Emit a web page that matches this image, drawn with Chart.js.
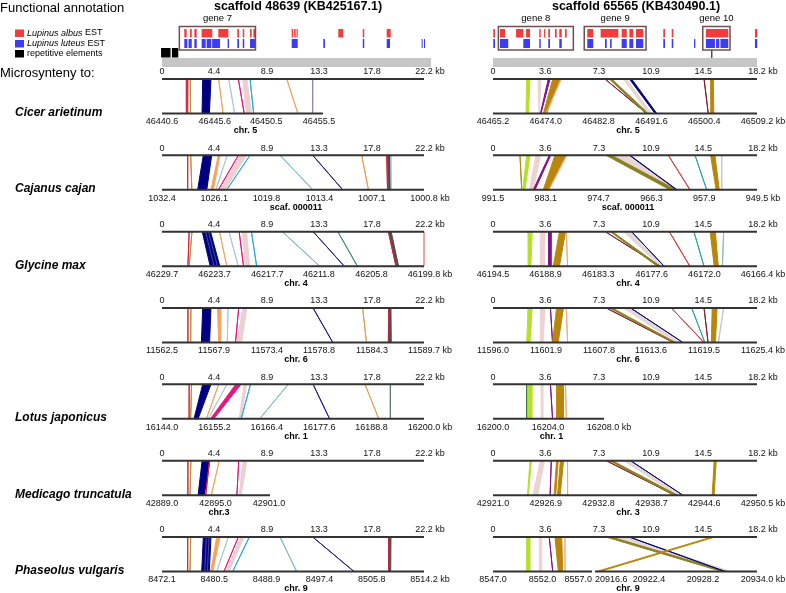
<!DOCTYPE html>
<html><head><meta charset="utf-8">
<script src="https://cdn.jsdelivr.net/npm/chart.js@4"></script>
<style>html,body{margin:0;padding:0;background:#fff}canvas{display:block}</style>
</head><body>
<canvas id="c" width="786" height="593"></canvas>
<script>
// ---------------- DATA ----------------
const leftTopTicks=[0,4.4,8.9,13.3,17.8,22.2];
const rightTopTicks=[0,3.6,7.3,10.9,14.5,18.2];
const speciesNames=['Cicer arietinum','Cajanus cajan','Glycine max','','Lotus japonicus','Medicago truncatula','Phaseolus vulgaris'];
const leftChrLabels=['chr. 5','scaf. 000011','chr. 4','chr. 6','chr. 1','chr.3','chr. 9'];
const rightChrLabels=['chr. 5','scaf. 000011','chr. 4','chr. 6','chr. 1','chr. 3','chr. 9'];

const cicerLeftTicks=[46440.6,46445.6,46450.5,46455.5];
const cicerRightTicks=[46465.2,46474.0,46482.8,46491.6,46500.4,46509.2];
const cajanusLeftTicks=[1032.4,1026.1,1019.8,1013.4,1007.1,1000.8];
const cajanusRightTicks=[991.5,983.1,974.7,966.3,957.9,949.5];
const glycine4LeftTicks=[46229.7,46223.7,46217.7,46211.8,46205.8,46199.8];
const glycine4RightTicks=[46194.5,46188.9,46183.3,46177.6,46172.0,46166.4];
const glycine6LeftTicks=[11562.5,11567.9,11573.4,11578.8,11584.3,11589.7];
const glycine6RightTicks=[11596.0,11601.9,11607.8,11613.6,11619.5,11625.4];
const lotusLeftTicks=[16144.0,16155.2,16166.4,16177.6,16188.8,16200.0];
const lotusRightTicks=[16200.0,16204.0,16208.0];
const medicagoLeftTicks=[42889.0,42895.0,42901.0];
const medicagoRightTicks=[42921.0,42926.9,42932.8,42938.7,42944.6,42950.5];
const phaseolusLeftTicks=[8472.1,8480.5,8488.9,8497.4,8505.8,8514.2];
const phaseolusRightTicksA=[8547.0,8552.0,8557.0];
const phaseolusRightTicksB=[20916.6,20922.4,20928.2,20934.0];

// links: [feature, scaffold kb start, scaffold kb end, target start, target end]
const cicerLeftLinks=[['A',2.05,2.2,46442.9,46443.05],['B',2.4,2.4,46443.3,46443.3],['C',3.45,4.15,46444.4,46445.1],['D',4.8,4.8,46446.4,46446.4],['E',5.65,5.65,46447.5,46447.5],['F',6.47,6.47,46448.4,46448.4],['G',6.84,7.2,46448.6,46449.1],['H',7.46,7.46,46449.3,46449.3],['D',10.57,10.57,46453.5,46453.5],['J2',12.77,12.77,46454.9,46454.9]];
const cajanusLeftLinks=[['A',2.18,2.18,1029.3,1029.3],['B',2.43,2.43,1028.8,1028.8],['C',3.5,4.21,1028.1,1027.0],['D',4.77,4.92,1026.5,1026.2],['E',5.53,5.53,1025.9,1025.9],['F',6.47,6.47,1025.6,1025.6],['G',6.61,7.18,1025.4,1024.8],['H',7.46,7.46,1024.6,1024.6],['I',10.0,10.0,1014.2,1014.2],['J',12.77,12.77,1010.6,1010.6],['K',16.92,16.92,1007.5,1007.5],['A',19.04,19.04,1005.2,1005.2],['M',19.12,19.32,1005.1,1004.85],['E',19.4,19.4,1004.75,1004.75]];
const glycine4LeftLinks=[['A',2.3,2.3,46226.74,46226.74],['B',2.54,2.54,46226.6,46226.6],['C',3.41,4.11,46224.2,46223.1],['D',4.87,4.87,46222.3,46222.3],['E',5.68,5.68,46221.0,46221.0],['F',6.54,6.54,46220.4,46220.4],['G',6.82,7.17,46220.2,46219.7],['H',7.58,7.58,46218.9,46218.9],['I',10.19,10.19,46211.7,46211.7],['J',12.81,12.81,46208.9,46208.9],['L',14.9,14.9,46207.4,46207.4],['A',19.18,19.18,46203.0,46203.0],['M',19.25,19.42,46202.9,46202.7],['N',22.2,22.2,46199.8,46199.8]];
const glycine6LeftLinks=[['A',2.2,2.2,11565.19,11565.19],['B',2.45,2.45,11565.48,11565.48],['C',3.45,4.15,11566.59,11567.44],['D',4.7,5.0,11568.39,11568.6],['E',5.6,5.6,11569.28,11569.28],['F',6.5,6.5,11570.13,11570.13],['G',6.85,7.2,11570.26,11570.76],['J',12.8,12.8,11580.23,11580.23],['K',17.0,17.0,11583.73,11583.73],['A',19.2,19.2,11586.0,11586.0],['M',19.27,19.4,11586.07,11586.3]];
const lotusLeftLinks=[['A',2.3,2.3,16149.79,16149.79],['B',2.5,2.5,16150.13,16150.13],['C',3.45,4.15,16150.84,16151.72],['D',4.8,4.8,16153.49,16153.49],['E',5.5,5.5,16153.92,16153.92],['F',6.25,6.7,16154.37,16155.07],['G',6.96,7.17,16160.5,16160.9],['H',7.5,7.5,16160.93,16160.93],['I',10.7,10.7,16164.88,16164.88],['J',12.8,12.8,16179.82,16179.82],['K',17.2,17.2,16190.34,16190.34],['O',19.35,19.35,16192.8,16192.8]];
const medicagoLeftLinks=[['A',2.2,2.2,42891.9,42891.9],['B',2.45,2.45,42892.14,42892.14],['C',3.4,4.05,42893.05,42893.74],['A',4.03,4.03,42893.9,42893.9],['D',4.85,4.85,42894.53,42894.53],['F',6.5,6.5,42897.4,42897.4],['G',6.85,7.2,42897.66,42897.88]];
const phaseolusLeftLinks=[['A',2.18,2.18,8476.23,8476.23],['B',2.43,2.43,8476.6,8476.6],['C',3.5,4.15,8478.48,8479.7],['D',4.63,4.92,8479.93,8480.25],['E',5.62,5.62,8480.9,8480.9],['F',6.47,6.47,8482.06,8482.06],['G',6.67,6.95,8482.38,8482.91],['H',7.4,7.4,8483.46,8483.46],['I',10.0,10.0,8493.74,8493.74],['J',12.77,12.77,8502.95,8502.95],['A',19.2,19.2,8508.5,8508.5],['M',19.27,19.4,8508.6,8508.85]];

const cicerRightLinks=[['a',2.32,2.55,46470.7,46471.1],['b',3.1,3.3,46472.85,46472.95],['c',3.81,3.93,46473.1,46473.2],['d',4.12,4.62,46473.6,46474.15],['e',4.7,4.7,46474.03,46474.03],['f',7.72,7.72,46490.8,46490.8],['g',8.02,8.18,46490.65,46491.1],['h',8.98,9.21,46491.1,46491.65],['i',9.4,9.56,46492.2,46492.5],['f',14.55,14.55,46501.08,46501.08],['d',15.0,15.19,46501.5,46502.0]];
const cajanusRightLinks=[['d',1.86,1.86,986.93,986.93],['a',2.32,2.55,986.78,986.41],['b',2.96,3.29,985.72,985.09],['c',3.88,3.98,985.09,984.82],['d',4.27,5.03,983.5,982.7],['e',5.08,5.08,982.6,982.6],['h',8.3,9.2,962.6,962.0],['g',7.79,8.18,963.34,962.39],['i',9.4,9.45,962.3,962.25],['j',12.09,12.09,960.16,960.16],['k',13.93,13.93,957.5,957.5],['d',15.0,15.3,956.0,955.5],['l',15.77,15.77,955.1,955.1]];
const glycine4RightLinks=[['a',2.41,2.7,46190.77,46190.47],['b',3.26,3.59,46189.47,46189.03],['c',3.82,4.02,46188.6,46188.3],['d',4.58,5.0,46188.08,46187.43],['e',5.05,5.05,46186.56,46186.56],['h',9.0,9.4,46176.7,46176.4],['f',7.75,7.75,46176.72,46176.72],['g',8.09,8.23,46177.02,46176.72],['i',9.55,9.55,46176.29,46176.29],['j',12.16,12.16,46173.55,46173.55],['k',13.85,13.85,46172.04,46172.04],['d',14.97,15.33,46170.96,46170.52],['n',15.9,15.9,46170.08,46170.08]];
const glycine6RightLinks=[['a',2.41,2.7,11599.76,11600.13],['b',3.26,3.59,11601.27,11601.58],['c',3.96,3.96,11602.63,11602.63],['d',4.38,4.86,11602.63,11603.26],['e',5.05,5.05,11604.31,11604.31],['h',9.0,9.4,11616.33,11616.79],['f',7.81,7.81,11616.1,11616.1],['g',8.05,8.23,11616.1,11616.33],['i',9.49,9.49,11617.14,11617.14],['j',12.3,12.3,11619.5,11619.5],['k',13.7,13.7,11619.59,11619.59],['f',14.55,14.55,11619.95,11619.95],['d',15.11,15.45,11620.32,11620.77],['l',15.9,15.9,11621.1,11621.1]];
const lotusRightLinks=[['m',2.33,2.33,16202.46,16202.46],['a',2.41,2.7,16202.55,16202.84],['b',3.32,3.45,16203.5,16203.64],['c',3.96,3.96,16204.33,16204.33],['d',4.38,4.86,16204.63,16205.13],['e',5.0,5.0,16205.33,16205.33]];
const medicagoRightLinks=[['a',2.55,2.65,42924.85,42924.95],['b',3.26,3.55,42925.46,42926.0],['c',4.02,4.02,42927.38,42927.38],['d',4.38,4.5,42927.83,42928.0],['d',4.65,4.86,42928.2,42928.51],['e',5.14,5.14,42929.34,42929.34],['h',9.0,9.4,42941.62,42941.93],['f',7.81,7.81,42941.3,42941.3],['g',8.05,8.23,42941.17,42941.62],['i',9.49,9.49,42942.21,42942.21],['d',15.25,15.39,42945.49,42945.71]];
const phaseolusRightLinksA=[['a',2.32,2.55,8550.4,8550.74],['b',3.19,3.36,8551.68,8551.92],['c',3.88,3.88,8553.03,8553.03],['d',4.27,4.74,8553.6,8554.04],['e',4.96,4.96,8554.27,8554.27]];
const phaseolusRightLinksB=[['h',8.5,9.2,20930.6,20931.2],['g',7.79,8.18,20930.21,20930.75],['i',9.4,9.4,20930.56,20930.56],['d',15.08,15.3,20916.78,20917.14]];

// EST / annotation tracks (kb on scaffold)
const albusLeft=[[1.89,2.09],[2.37,2.52],[2.74,2.94],[3.36,4.26],[4.77,5.62],[6.38,6.53],[6.84,6.97],[7.46,7.6],[7.74,7.88],[10.99,11.12],[11.2,11.33],[11.4,11.5],[14.94,15.36],[17.01,17.14],[19.04,19.38]];
const luteusLeft=[[1.89,2.15],[2.25,2.52],[2.74,2.94],[3.36,3.7],[3.78,4.18],[4.25,4.92],[5.56,5.68],[6.38,6.53],[6.84,6.97],[7.46,7.88],[10.99,11.5],[13.67,13.81],[17.01,17.14],[19.04,19.32],[22.0,22.07],[22.2,22.27]];
const albusRight=[[0.02,0.14],[0.48,0.83],[1.59,2.09],[2.28,2.55],[3.19,3.29],[3.52,3.61],[3.81,3.93],[4.27,4.39],[4.57,4.74],[4.96,5.08],[6.5,6.91],[7.42,8.64],[8.87,9.22],[9.4,9.67],[9.86,10.36],[11.74,11.86],[12.32,12.43],[14.68,16.22],[18.06,18.22]];
const luteusRight=[[0.02,0.14],[0.48,1.05],[2.09,2.55],[3.19,3.29],[3.81,3.93],[4.57,4.74],[6.5,6.91],[7.72,7.84],[8.07,8.18],[8.87,9.22],[9.4,9.67],[9.86,10.36],[11.74,11.86],[12.32,12.43],[13.86,13.95],[14.68,15.3],[15.38,15.6],[15.68,16.22],[18.06,18.22]];
const repeatsLeft=[[-0.08,0.74],[0.82,1.38]];
const repeatsRight=[[15.05,15.12]];
const genesLeft=[['gene 7',1.47,7.92]];
const genesRight=[['gene 8',0.37,5.54],['gene 9',6.29,10.55],['gene 10',14.46,16.34]];
const scaffoldLeft=[0,22.8];
const scaffoldRight=[0,18.2];

// ---------------- STYLE / LAYOUT ----------------
const W=786,H=593;
const FONT='"Liberation Sans", Arial, sans-serif';
const featureColors={A:'#d3213f',B:'#b8903a',C:'#000080',D:'#f4a460',E:'#aec3e0',F:'#e8157e',G:'#ecd0d0',H:'#2aa8e0',I:'#78b8b8',J:'#1c1c8c',J2:'#8c80c4',K:'#e59a55',L:'#3b8f5f',M:'#5a4848',N:'#f08080',O:'#5c7070',
 a:'#b5e02a',b:'#eed2d2',c:'#80108a',d:'#b8860b',e:'#f5a878',f:'#8b1a2a',g:'#8a8020',h:'#e6d6d6',i:'#00087a',j:'#e03535',k:'#2aa5a5',l:'#c4c4c4',m:'#2e6b3a',n:'#8cc0a8'};
const rowTopY=[79,155.3,231.7,308,384.3,460.7,537];
const GAP=34.5;

const panels=[
 {row:0,id:'b0L',top:'tL',segs:[{ticks:cicerLeftTicks,links:cicerLeftLinks,p:[162,319],end:323,kb:false}]},
 {row:0,id:'b0R',top:'tR',segs:[{ticks:cicerRightTicks,links:cicerRightLinks,p:[493,757],end:757,kb:true}]},
 {row:1,id:'b1L',top:'tL',segs:[{ticks:cajanusLeftTicks,links:cajanusLeftLinks,p:[162,424],end:424,kb:true}]},
 {row:1,id:'b1R',top:'tR',segs:[{ticks:cajanusRightTicks,links:cajanusRightLinks,p:[493,757],end:757,kb:true}]},
 {row:2,id:'b2L',top:'tL',stripes:true,segs:[{ticks:glycine4LeftTicks,links:glycine4LeftLinks,p:[162,424],end:424,kb:true}]},
 {row:2,id:'b2R',top:'tR',segs:[{ticks:glycine4RightTicks,links:glycine4RightLinks,p:[493,757],end:757,kb:true}]},
 {row:3,id:'b3L',top:'tL',segs:[{ticks:glycine6LeftTicks,links:glycine6LeftLinks,p:[162,424],end:424,kb:true}]},
 {row:3,id:'b3R',top:'tR',segs:[{ticks:glycine6RightTicks,links:glycine6RightLinks,p:[493,757],end:757,kb:true}]},
 {row:4,id:'b4L',top:'tL',segs:[{ticks:lotusLeftTicks,links:lotusLeftLinks,p:[162,424],end:424,kb:true}]},
 {row:4,id:'b4R',top:'tR',segs:[{ticks:lotusRightTicks,links:lotusRightLinks,p:[493,603],end:604,kb:true}]},
 {row:5,id:'b5L',top:'tL',segs:[{ticks:medicagoLeftTicks,links:medicagoLeftLinks,p:[162,269],end:270,kb:false}]},
 {row:5,id:'b5R',top:'tR',segs:[{ticks:medicagoRightTicks,links:medicagoRightLinks,p:[493,757],end:757,kb:true}]},
 {row:6,id:'b6L',top:'tL',stripes:true,segs:[{ticks:phaseolusLeftTicks,links:phaseolusLeftLinks,p:[162,424],end:424,kb:true}]},
 {row:6,id:'b6R',top:'tR',segs:[{ticks:phaseolusRightTicksA,links:phaseolusRightLinksA,p:[493,592],end:592,kb:false,lastRight:true},
                                   {ticks:phaseolusRightTicksB,links:phaseolusRightLinksB,p:[595,757],end:757,kb:true,firstLeft:true}]}
];

function linScale(v0,v1,p0,p1){
  const k=(p1-p0)/(v1-v0);
  const base={type:'linear',axis:'x',position:'bottom',display:false,bounds:'data',grace:0,ticks:{display:false},grid:{display:false}};
  if(k>0) return Object.assign({},base,{min:v0-p0/k,max:v0+(W-p0)/k});
  const a=-k; return Object.assign({},base,{reverse:true,min:v0-(W-p0)/a,max:v0+p0/a});
}
const scales={
  x:{type:'linear',display:false,min:0,max:W},
  y:{type:'linear',display:false,min:0,max:H,reverse:true},
  tL:linScale(0,22.2,162,424),
  tR:linScale(0,18.2,493,757)
};
panels.forEach(pn=>pn.segs.forEach((s,i)=>{
  s.id=pn.id+i; const t=s.ticks;
  scales[s.id]=linScale(t[0],t[t.length-1],s.p[0],s.p[1]);
}));

const fmtBottom=v=>v.toFixed(1);
const fmtTop=v=>v===0?'0':v.toFixed(1);

const synteny={
 id:'synteny',
 afterDraw(chart){
  const ctx=chart.ctx,S=chart.scales;
  const Y=v=>S.y.getPixelForValue(v);
  ctx.save();
  ctx.textBaseline='middle';
  const text=(t,x,y,font,align,color)=>{ctx.font=font;ctx.textAlign=align||'left';ctx.fillStyle=color||'#000';ctx.fillText(t,x,y);};
  // headings
  text('Functional annotation',0,Y(8),'13px '+FONT);
  text('Microsynteny to:',0,Y(73),'13px '+FONT);
  text('scaffold 48639 (KB425167.1)',298,Y(7),'bold 12.5px '+FONT,'center');
  text('scaffold 65565 (KB430490.1)',636,Y(7),'bold 12.5px '+FONT,'center');
  // legend
  const leg=[['#f23c3c','Lupinus albus',' EST',33],['#3c3cf2','Lupinus luteus',' EST',43.5],['#000','','repetitive elements',53.5]];
  leg.forEach(([c,it,rest,y])=>{
    ctx.fillStyle=c;ctx.fillRect(15,Y(y)-3.5,9,7.5);
    ctx.font='italic 9px '+FONT;ctx.textAlign='left';ctx.fillStyle='#000';
    let x=27;
    if(it){ctx.fillText(it,x,Y(y));x+=ctx.measureText(it).width;}
    ctx.font='9px '+FONT;ctx.fillText(rest,x,Y(y));
  });
  // annotation tracks
  const track=(sc,arr,y0,y1,color)=>{ctx.fillStyle=color;arr.forEach(([a,b])=>{const x0=S[sc].getPixelForValue(a),x1=S[sc].getPixelForValue(b);ctx.fillRect(x0,Y(y0),Math.max(1,x1-x0),Y(y1)-Y(y0));});};
  track('tL',[scaffoldLeft],58,67,'#c6c6c6');
  track('tR',[scaffoldRight],58,67,'#c6c6c6');
  track('tL',albusLeft,29,37.5,'#f23c3c');
  track('tL',luteusLeft,39,48,'#3c3cf2');
  track('tR',albusRight,29,37.5,'#f23c3c');
  track('tR',luteusRight,39,48,'#3c3cf2');
  track('tL',repeatsLeft,48,57.5,'#000');
  track('tR',repeatsRight,50,58,'#000');
  ctx.fillStyle='#fff';
  [0.78].forEach(v=>{const x=S.tL.getPixelForValue(v);ctx.fillRect(x-0.5,Y(48),1,9.5);});
  const genes=(sc,arr)=>arr.forEach(([name,a,b])=>{
    const x0=S[sc].getPixelForValue(a),x1=S[sc].getPixelForValue(b);
    ctx.strokeStyle='#6e5050';ctx.lineWidth=1.5;ctx.strokeRect(x0,Y(26.5),x1-x0,Y(50)-Y(26.5));
    text(name,(x0+x1)/2,Y(18),'9.5px '+FONT,'center');
  });
  genes('tL',genesLeft);genes('tR',genesRight);

  // synteny panels
  const axisLine=(x0,x1,y)=>{ctx.strokeStyle='#333';ctx.lineWidth=2;ctx.beginPath();ctx.moveTo(x0,y);ctx.lineTo(x1,y);ctx.stroke();};
  const tickLabels=(sc,ticks,y,kb,opts,fmt)=>{
    ctx.font='9px '+FONT;ctx.fillStyle='#111';
    ticks.forEach((v,i)=>{
      const x=S[sc].getPixelForValue(v);const s=fmt(v);const w=ctx.measureText(s).width;
      let left=x-w/2;
      if(opts&&opts.lastRight&&i===ticks.length-1) left=x-w;
      if(opts&&opts.firstLeft&&i===0) left=x;
      ctx.textAlign='left';ctx.fillText(s,left,y);
      if(kb&&i===ticks.length-1) ctx.fillText(' kb',left+w,y);
    });
  };
  panels.forEach(pn=>{
    const yT=Y(rowTopY[pn.row]),yB=Y(rowTopY[pn.row]+GAP);
    const top=S[pn.top];
    const tTicks=pn.top==='tL'?leftTopTicks:rightTopTicks;
    // links
    pn.segs.forEach(s=>{
      s.links.forEach(([f,t0,t1,b0,b1])=>{
        const xt0=top.getPixelForValue(t0),xt1=top.getPixelForValue(t1);
        const xb0=S[s.id].getPixelForValue(b0),xb1=S[s.id].getPixelForValue(b1);
        ctx.beginPath();ctx.moveTo(xt0,yT);ctx.lineTo(xt1,yT);ctx.lineTo(xb1,yB);ctx.lineTo(xb0,yB);ctx.closePath();
        ctx.fillStyle=ctx.strokeStyle=featureColors[f];ctx.lineWidth=1;ctx.fill();ctx.stroke();
        if(f==='C'&&pn.stripes){ // white separators inside the wide navy block
          ctx.strokeStyle='rgba(255,255,255,0.55)';ctx.lineWidth=0.5;
          [0.4,0.75].forEach(q=>{ctx.beginPath();ctx.moveTo(xt0+(xt1-xt0)*q,yT);ctx.lineTo(xb0+(xb1-xb0)*q,yB);ctx.stroke();});
        }
      });
    });
    // top axis
    axisLine(top.getPixelForValue(tTicks[0]),top.getPixelForValue(tTicks[tTicks.length-1]),yT);
    tickLabels(pn.top,tTicks,yT-7,true,null,fmtTop);
    // bottom axes
    let minX=1e9,maxX=-1e9;
    pn.segs.forEach(s=>{
      const x0=S[s.id].getPixelForValue(s.ticks[0]);
      axisLine(x0,s.end,yB);
      tickLabels(s.id,s.ticks,yB+8.5,s.kb,s,fmtBottom);
      minX=Math.min(minX,x0);maxX=Math.max(maxX,s.end);
    });
    const lab=pn.top==='tL'?leftChrLabels[pn.row]:rightChrLabels[pn.row];
    text(lab,(minX+maxX)/2+3,yB+17.5,'bold 9px '+FONT,'center');
    if(pn.top==='tL'&&speciesNames[pn.row]) text(speciesNames[pn.row],15,yB-1,'italic bold 12px '+FONT,'left');
  });
  ctx.restore();
 }
};

new Chart(document.getElementById('c'),{
  type:'scatter',
  data:{datasets:[]},
  options:{responsive:false,animation:false,events:[],layout:{padding:0},
    plugins:{legend:{display:false},tooltip:{enabled:false},title:{display:false}},
    scales:scales},
  plugins:[synteny]
});
</script>
</body></html>
